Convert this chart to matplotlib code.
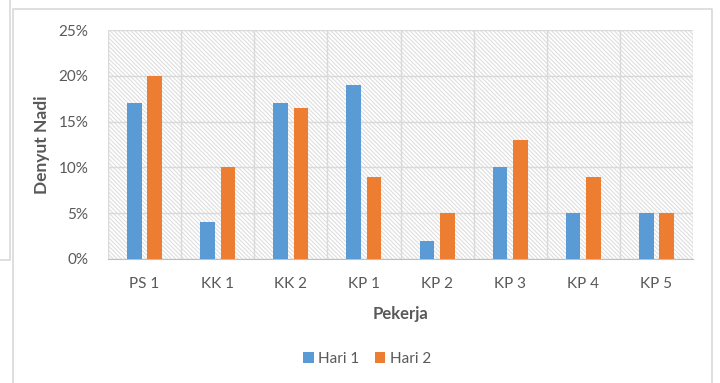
import matplotlib
matplotlib.use("Agg")
import matplotlib.pyplot as plt
import numpy as np
from matplotlib.lines import Line2D
from matplotlib.patches import Rectangle
from matplotlib.ticker import FuncFormatter

pekerja = ["PS 1", "KK 1", "KK 2", "KP 1", "KP 2", "KP 3", "KP 4", "KP 5"]
hari_1 = [17, 4, 17, 19, 2, 10, 5, 5]
hari_2 = [20, 10, 16.5, 9, 5, 13, 9, 5]
y_ticks = [0, 5, 10, 15, 20, 25]

BLUE = "#5B9BD5"
ORANGE = "#ED7D31"
TEXT = "#595959"
GRID = "#D9D9D9"

plt.rcParams["font.family"] = ["Lato", "DejaVu Sans"]
plt.rcParams["hatch.linewidth"] = 0.8

W, H = 720, 383
fig = plt.figure(figsize=(W / 100, H / 100), dpi=100)
fig.patch.set_facecolor("white")

# plot area in pixel coordinates
left, top, right, bottom = 108, 30, 693, 259
ax = fig.add_axes([left / W, 1 - bottom / H, (right - left) / W, (bottom - top) / H])

# hatched background of the plot area
ax.add_patch(Rectangle((0, 0), 1, 1, transform=ax.transAxes, facecolor="white",
                       edgecolor="#DEDEDE", linewidth=0, hatch="\\" * 8, zorder=0.1))

x = np.arange(len(pekerja))
bw = 0.2
off = 0.14
ax.bar(x - off, hari_1, bw, color=BLUE, label="Hari 1", zorder=3)
ax.bar(x + off, hari_2, bw, color=ORANGE, label="Hari 2", zorder=3)

ax.set_xlim(-0.5, len(pekerja) - 0.5)
ax.set_ylim(0, 25)
ax.set_yticks(y_ticks)
ax.yaxis.set_major_formatter(FuncFormatter(lambda v, _: f"{v:.0f}%"))
ax.set_xticks(x)
ax.set_xticklabels(pekerja)
ax.set_xticks(np.arange(len(pekerja) + 1) - 0.5, minor=True)

ax.set_axisbelow(True)
ax.grid(axis="y", which="major", color=GRID, linewidth=1, zorder=0.5)
ax.grid(axis="x", which="minor", color=GRID, linewidth=1, zorder=0.5)
ax.tick_params(which="both", length=0)
ax.tick_params(axis="y", labelsize=11, labelcolor=TEXT, pad=14)
ax.tick_params(axis="x", labelsize=11, labelcolor=TEXT, pad=13)

for side in ["top", "right", "left"]:
    ax.spines[side].set_visible(False)
ax.spines["bottom"].set_color("#BFBFBF")

ax.set_ylabel("Denyut Nadi", fontsize=12.5, fontweight="bold", color=TEXT, labelpad=6)
ax.set_xlabel("Pekerja", fontsize=12, fontweight="bold", color=TEXT, labelpad=11)

fig.legend(loc="center", bbox_to_anchor=(367 / W, 1 - 359 / H), ncol=2, frameon=False,
           fontsize=11, labelcolor=TEXT, handlelength=0.7, handleheight=0.7,
           handletextpad=0.3, columnspacing=1.0)

# chart frame lines
def px_line(xs, ys, color):
    fig.add_artist(Line2D([v / W for v in xs], [1 - v / H for v in ys],
                          color=color, linewidth=1.2, transform=fig.transFigure))

px_line([13, 13, 712, 712], [H, 9, 9, H], "#D9D9D9")
px_line([10, 10, 0], [0, 260, 260], "#D9D9D9")

fig.savefig("out.png", dpi=100)
